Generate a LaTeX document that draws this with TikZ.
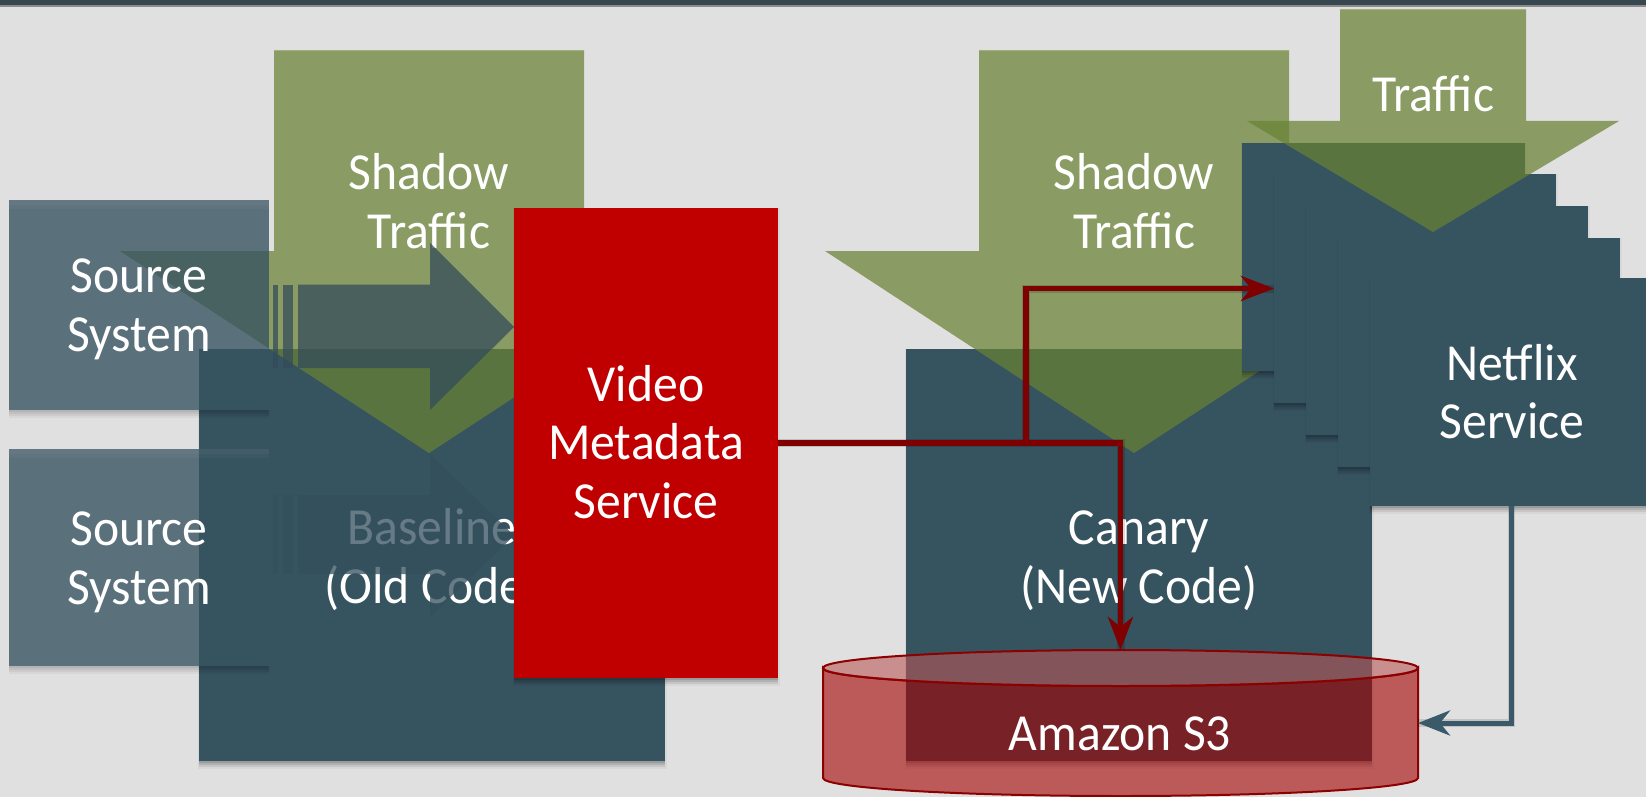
\documentclass[tikz,border=0pt]{standalone}
\usepackage{fontspec}
\setmainfont[FakeStretch=0.955]{Carlito}
\usetikzlibrary{arrows.meta}
\definecolor{bgc}{HTML}{E0E0E0}
\definecolor{barc}{HTML}{37474F}
\definecolor{boxc}{HTML}{365360}
\definecolor{grn}{RGB}{105,130,52}
\definecolor{redc}{HTML}{C00000}
\definecolor{lnred}{HTML}{7F0000}
\definecolor{lnblue}{HTML}{3A5A6A}
\definecolor{arrc}{RGB}{52,76,90}
\definecolor{arrd}{RGB}{52,80,93}
\tikzset{
  x=1pt,y=-1pt,
  block/.style={anchor=north west,inner sep=0pt,outer sep=0pt,fill=boxc,draw=none},
  txt/.style={text=white,inner sep=0pt,outer sep=0pt,align=center,anchor=base,
    font=\fontsize{52}{58.5}\selectfont},
  greenarrow/.style={fill=grn,fill opacity=.72,draw=none},
  darkarrow/.style={fill=arrc,fill opacity=.75,draw=none},
  dimarrow/.style={fill=arrd,fill opacity=.75,draw=none},
  lightedge/.style={draw=white,draw opacity=.2,line width=1.5pt},
  redline/.style={draw=lnred,line width=5.5pt,-{Stealth[length=33pt,width=25pt,inset=10pt]},
    preaction={draw=black,draw opacity=.15,line width=8pt,-}},
  blueline/.style={draw=lnblue,line width=5pt,-{Stealth[length=32pt,width=25pt,inset=10pt]},
    preaction={draw=black,draw opacity=.12,line width=7.5pt,-}},
  cyl/.style={draw=lnred!90!red,line width=2pt},
}
% name, x1, y1, x2, y2, extra style: soft shadow, then the box
\newcommand{\opaquebox}[6]{%
  \fill[black,opacity=.04] (#2-1.5,#3) rectangle (#4+1.5,#5+8);
  \fill[black,opacity=.08] (#2,#3) rectangle (#4,#5+6);
  \fill[black,opacity=.10] (#2,#3) rectangle (#4,#5+4);
  \fill[black,opacity=.12] (#2,#3) rectangle (#4,#5+2);
  \node[block,minimum width={(#4-#2)*1pt},minimum height={(#5-#3)*1pt},#6] (#1) at (#2,#3) {};
}
\newcommand{\glassbox}[6]{%
  \fill[black,opacity=.04] (#2,#5) rectangle (#4,#5+8);
  \fill[black,opacity=.05] (#2,#5) rectangle (#4,#5+6);
  \fill[black,opacity=.06] (#2,#5) rectangle (#4,#5+4);
  \fill[black,opacity=.06] (#2,#5) rectangle (#4,#5+2);
  \node[block,minimum width={(#4-#2)*1pt},minimum height={(#5-#3)*1pt},#6] (#1) at (#2,#3) {};
  \fill[white,opacity=.03] (#2,#3) rectangle (#4,#3+9);
  \fill[white,opacity=.03] (#2,#3) rectangle (#4,#3+5);
}
\begin{document}
\begin{tikzpicture}
\useasboundingbox (0,0) rectangle (1646,797);
\clip (0,0) rectangle (1646,797);
\fill[bgc] (0,0) rectangle (1646,797);
\fill[black!45] (0,5) rectangle (1646,7.5);
\fill[barc] (0,0) rectangle (1646,5.5);

% service boxes under the shadow traffic
\opaquebox{baseline}{199}{349}{665}{761}{}
\opaquebox{canary}{906}{349}{1372}{761}{}
\node[txt] (baselinet) at (baseline.north |- 0,603) {Baseline\\(Old Code)};
\node[txt] (canaryt) at (canary.north |- 0,603) {Canary\\(New Code)};

% shadow traffic arrows
\fill[greenarrow] (274,50) -- (584,50) -- (584,251) -- (738,251) -- (429,453) -- (120,251) -- (274,251) -- cycle;
\fill[greenarrow] (979,50) -- (1289,50) -- (1289,251) -- (1443,251) -- (1134,453) -- (825,251) -- (979,251) -- cycle;
\draw[lightedge] (274,50) -- (584,50);
\draw[lightedge] (979,50) -- (1289,50);
\node[txt] (shadowa) at (429,248) {Shadow\\Traffic};
\node[txt] (shadowb) at (1134,248) {Shadow\\Traffic};

% source systems and their arrows
\glassbox{srca}{9}{200}{269}{410}{fill opacity=.79}
\glassbox{srcb}{9}{449}{269}{666}{fill opacity=.79}
\fill[darkarrow] (272.5,284.5) rectangle (277.5,368);
\fill[darkarrow] (282.5,284.5) rectangle (293,368);
\fill[darkarrow] (298,284.5) -- (430,284.5) -- (430,243) -- (514,327) -- (430,410) -- (430,368) -- (298,368) -- cycle;
\fill[dimarrow] (272.5,495) rectangle (277.5,574);
\fill[dimarrow] (282.5,495) rectangle (293,574);
\fill[dimarrow] (298,495) -- (430,495) -- (430,454) -- (514,535.5) -- (430,617) -- (430,574) -- (298,574) -- cycle;
\node[txt] (srcat) at (139,351) {Source\\System};
\node[txt] (srcbt) at (139,604) {Source\\System};

% video metadata service
\opaquebox{vms}{514}{208}{778}{678}{fill=redc}
\node[txt] (vmst) at (vms.north |- 0,518) {Video\\Metadata\\Service};

% netflix service stack
\opaquebox{nfa}{1242}{143}{1525}{371}{}
\opaquebox{nfb}{1274}{174}{1556}{403}{}
\opaquebox{nfc}{1306}{206}{1588}{435}{}
\opaquebox{nfd}{1338}{238}{1620}{467}{}
\opaquebox{nfe}{1370}{278}{1653}{506}{}
\node[txt] (nft) at (1512,438.5) {Netflix\\Service};

% traffic arrow
\fill[greenarrow] (1340,9) -- (1526,9) -- (1526,121) -- (1619,121) -- (1433,232) -- (1247,121) -- (1340,121) -- cycle;
\draw[lightedge] (1340,9) -- (1526,9);
\node[txt] (traffict) at (1433,112) {Traffic};

% amazon s3 cylinder
\node[inner sep=0pt,outer sep=0pt,anchor=north west,minimum width=595pt,minimum height=146pt] (s3) at (823,650) {};
\path[cyl,fill={rgb,255:red,164;green,2;blue,2},fill opacity=.6]
  (823,668) -- (823,778) arc[start angle=180,end angle=360,x radius=297.5pt,y radius=18pt]
  -- (1418,668) arc[start angle=0,end angle=-180,x radius=297.5pt,y radius=18pt] -- cycle;
\path[cyl,fill={rgb,255:red,185;green,86;blue,86},fill opacity=.59] (1120.5,668) ellipse [x radius=297.5pt,y radius=18pt];
\node[txt] (s3t) at (1120,750) {Amazon S3};

% connectors
\coordinate (branch) at (1026,443);
\draw[redline] (vms.east) -- (s3.north |- vms.east) -- (s3.north);
\draw[redline] (branch) |- (nfb.west);
\draw[blueline] (nfe.south) |- (s3.east);
\end{tikzpicture}
\end{document}
